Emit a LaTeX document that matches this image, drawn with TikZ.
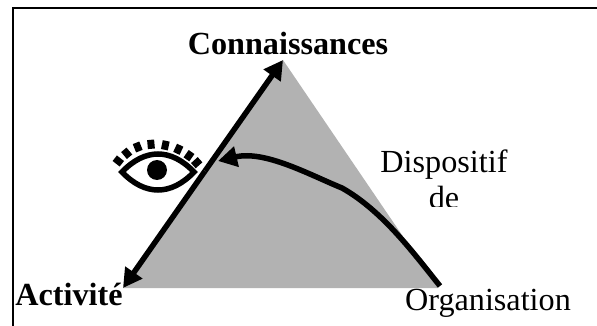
\documentclass[tikz,border=0pt]{standalone}
\usepackage{fontspec}
\setmainfont{Liberation Serif}
\usetikzlibrary{arrows.meta}
\tikzset{
  lbl/.style={inner sep=0pt, anchor=base, font=\fontsize{32.2}{34}\selectfont},
  lblb/.style={lbl, font=\fontsize{32.2}{34}\selectfont\bfseries},
  fleche/.style={line width=5.5pt, -{Triangle[length=19pt,width=20pt]}},
}
\begin{document}
\begin{tikzpicture}[x=1pt, y=-1pt]
        \useasboundingbox (0,0) rectangle (597,326);
        \draw[line width=1.6pt] (13,326) -- (13,8.3) -- (597,8.3);
        \fill [black!30] (283,60) -- (438,288) -- (123,288) -- cycle;
        \coordinate (haut) at (283,60);
        \coordinate (bas) at (123,288);
        \coordinate (mid) at (205,171);
        \coordinate (dep) at (440,286);
        \draw[fleche] (mid) -- (haut);
        \draw[fleche] (mid) -- (bas);
        \draw[fleche] (dep) .. controls (415,255) and (383,211) .. (342,188)
            .. controls (310,175) and (265,150) .. (218,161);
        % oeil
        \draw[line width=5.5pt, fill=white] (122,172) .. controls (145,148) and (171,148) .. (194,172)
            .. controls (171,196) and (145,196) .. cycle;
        \fill (157,170) circle (10);
        \foreach \x/\y/\a in {118.3/161/52, 126.7/153.3/40, 137.7/147/22, 151/144.3/5, 165.3/145.3/-12, 178.3/149.3/-25, 189/155.7/-35, 196.7/162.7/-48}
            \fill[rotate around={\a:(\x,\y)}] (\x-3.5,\y-4.5) rectangle (\x+3.5,\y+4.5);
        \node[lblb] (con) at (288,55) {Connaissances};
        \node[lblb] (act) at (69,305) {Activité};
        \node[lbl] (org) at (488,310) {Organisation};
        \node[lbl] (dis) at (444,172) {Dispositif};
        \begin{scope}
            \clip (400,180) rectangle (480,206);
            \node[lbl] (de) at (444,208) {de};
        \end{scope}
    \end{tikzpicture}
\end{document}
